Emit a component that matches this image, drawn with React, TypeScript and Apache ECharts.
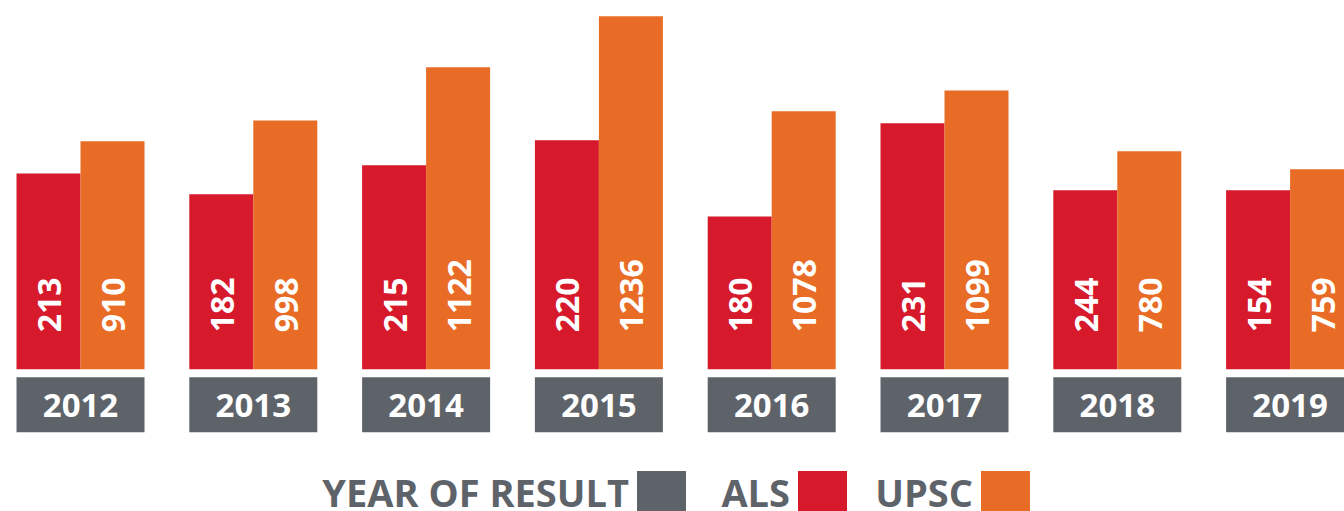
import React, { useEffect, useRef } from "react";
import * as echarts from "echarts";

// Years of result (category axis)
const years = ["2012", "2013", "2014", "2015", "2016", "2017", "2018", "2019"];
// Printed counts on the bars
const alsCount = [213, 182, 215, 220, 180, 231, 244, 154];
const upscCount = [910, 998, 1122, 1236, 1078, 1099, 780, 759];
// Drawn bar lengths as they appear in the infographic (tallest bar = 100)
const alsBarLength = [55.5, 49.6, 57.8, 64.9, 43.3, 69.7, 50.7, 50.7];
const upscBarLength = [64.6, 70.5, 85.6, 100, 73.1, 79.0, 61.8, 56.7];
const legendNames = ["YEAR OF RESULT", "ALS", "UPSC"];

const RED = "#d6192b";
const ORANGE = "#e86c25";
const GRAY = "#5e636a";
const FONT = "'Open Sans', 'DejaVu Sans', sans-serif";

export default function App() {
  const ref = useRef<HTMLDivElement>(null);

  useEffect(() => {
    if (!ref.current) return;
    const chart = echarts.init(ref.current, null, { renderer: "svg" });
    const barLabel = (counts: number[]) => ({
      show: true,
      position: "insideBottom",
      distance: 37,
      rotate: 90,
      align: "left",
      verticalAlign: "middle",
      color: "#ffffff",
      fontSize: 32,
      fontWeight: "bold",
      fontFamily: FONT,
      formatter: (p: any) => String(counts[p.dataIndex]),
    });

    // legend built from text + swatch pairs (text sits left of its swatch)
    const legendColors = [GRAY, RED, ORANGE];
    const swatchLeft = [637, 798, 981];
    const legendGraphic: any[] = [];
    legendNames.forEach((name, i) => {
      legendGraphic.push({
        type: "text",
        x: swatchLeft[i] - 8,
        y: 492,
        style: {
          text: name,
          fill: GRAY,
          font: `bold 38px ${FONT}`,
          lineHeight: 34,
          textAlign: "right",
          textVerticalAlign: "middle",
        },
      });
      legendGraphic.push({
        type: "rect",
        shape: { x: swatchLeft[i], y: 471, width: 49, height: 48 },
        style: { fill: legendColors[i] },
      });
    });

    chart.setOption({
      animation: false,
      backgroundColor: "#ffffff",
      grid: {
        left: -5.9,
        right: -32.5,
        top: 16.3,
        bottom: 141.7,
        containLabel: false,
        outerBoundsMode: "none",
      },
      graphic: legendGraphic,
      xAxis: {
        type: "category",
        data: years,
        axisLine: { show: false },
        axisTick: { show: false },
        axisLabel: {
          interval: 0,
          margin: 8,
          color: "#ffffff",
          fontSize: 33,
          fontWeight: "bold",
          fontFamily: FONT,
          backgroundColor: GRAY,
          width: 128,
          height: 55,
          lineHeight: 55,
          align: "center",
          verticalAlign: "top",
        },
      },
      yAxis: {
        type: "value",
        min: 0,
        max: 100,
        show: false,
        splitLine: { show: false },
      },
      series: [
        {
          name: legendNames[1],
          type: "bar",
          data: alsBarLength,
          barWidth: 64,
          barGap: "0%",
          itemStyle: { color: RED },
          label: barLabel(alsCount),
        },
        {
          name: legendNames[2],
          type: "bar",
          data: upscBarLength,
          barWidth: 64,
          barGap: "0%",
          itemStyle: { color: ORANGE },
          label: barLabel(upscCount),
        },
      ],
    });
    return () => chart.dispose();
  }, []);

  return (
    <div
      ref={ref}
      style={{ position: "absolute", left: 0, top: 0, width: 1344, height: 511 }}
    />
  );
}
